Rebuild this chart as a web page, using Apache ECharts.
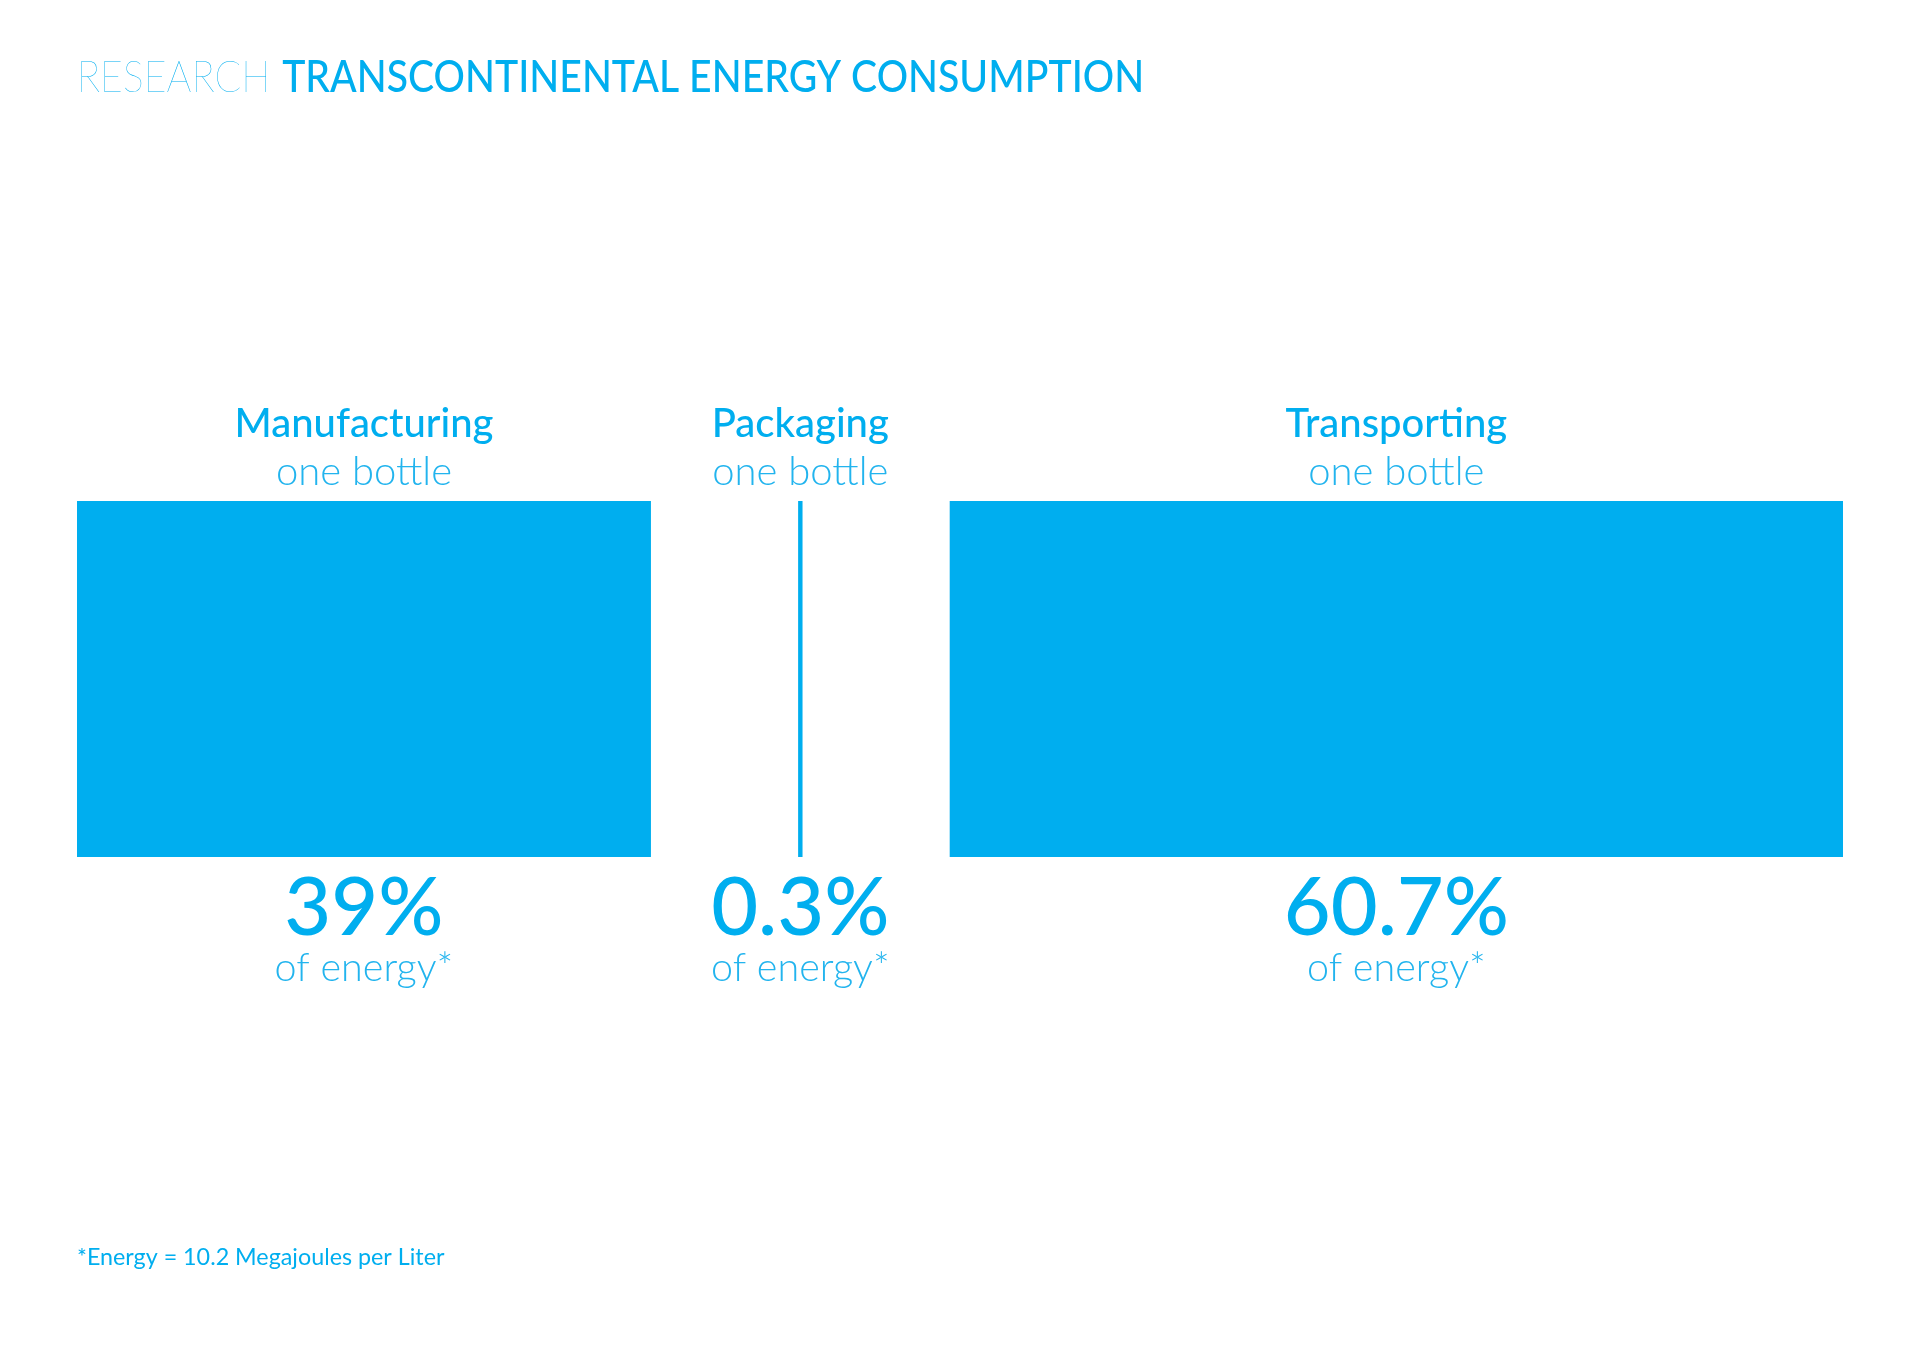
<!DOCTYPE html>
<html>
<head>
<meta charset="utf-8">
<script src="https://cdn.jsdelivr.net/npm/echarts@6/dist/echarts.min.js"></script>
<style>html,body{margin:0;padding:0;background:#fff}#c{width:1920px;height:1357px}</style>
</head>
<body>
<div id="c"></div>
<script>
// ---- data ----
var categories = ['Manufacturing', 'Packaging', 'Transporting'];
var values = [39, 0.3, 60.7];
var valueLabels = ['39%', '0.3%', '60.7%'];
var topSub = 'one bottle';
var bottomSub = 'of energy*';
var titleLight = 'RESEARCH';
var titleBold = 'TRANSCONTINENTAL ENERGY CONSUMPTION';
var footnote = '*Energy = 10.2 Megajoules per Liter';

// layout constant (gap between blocks, in value units)
var GAP = 10;
var BLUE = '#00AEEF';
var LIGHT = '#22B4EE';
var FONT = 'Lato';

var items = [];
var acc = 0;
for (var i = 0; i < values.length; i++) {
  items.push([acc, acc + values[i], i]);
  acc += values[i] + GAP;
}
var total = acc - GAP;

var chart = echarts.init(document.getElementById('c'), null, {renderer: 'canvas'});
chart.setOption({
  backgroundColor: '#ffffff',
  animation: false,
  graphic: [{
    type: 'text',
    left: 77, top: 56,
    scaleX: 0.89,
    style: {
      text: '{a|' + titleLight + '}{s| }{b|' + titleBold + '}',
      rich: {
        a: {fontFamily: FONT, fontWeight: 200, fontSize: 44, fill: BLUE},
        s: {fontFamily: FONT, fontSize: 44, width: 13},
        b: {fontFamily: FONT, fontWeight: 500, fontSize: 44, fill: BLUE}
      }
    }
  }, {
    type: 'text',
    left: 77, top: 1246,
    style: {text: footnote, fontFamily: FONT, fontWeight: 400, fontSize: 23.3, fill: BLUE}
  }],
  grid: {left: 77, top: 501, width: 1766, height: 356},
  xAxis: {type: 'value', min: 0, max: total, show: false},
  yAxis: {type: 'value', min: 0, max: 1, show: false},
  series: [{
    type: 'custom',
    data: items,
    encode: {x: [0, 1]},
    renderItem: function (params, api) {
      var s = api.coord([api.value(0), 1]);
      var e = api.coord([api.value(1), 0]);
      var idx = api.value(2);
      var x0 = s[0], y0 = s[1], x1 = e[0], y1 = e[1];
      var cx = (x0 + x1) / 2;
      return {
        type: 'group',
        children: [
          {type: 'rect', shape: {x: x0, y: y0, width: Math.max(x1 - x0, 1), height: y1 - y0}, style: {fill: BLUE}},
          {type: 'text', style: {text: categories[idx], x: cx, y: y0 - 77, align: 'center', verticalAlign: 'middle',
            font: '500 40px ' + FONT, fill: BLUE}},
          {type: 'text', style: {text: topSub, x: cx, y: y0 - 29, align: 'center', verticalAlign: 'middle',
            font: '300 40px ' + FONT, fill: LIGHT}},
          {type: 'text', style: {text: valueLabels[idx], x: cx, y: y1 + 52, align: 'center', verticalAlign: 'middle',
            font: '500 81px ' + FONT, fill: BLUE}},
          {type: 'text', style: {text: bottomSub, x: cx, y: y1 + 111, align: 'center', verticalAlign: 'middle',
            font: '300 39.5px ' + FONT, fill: LIGHT}}
        ]
      };
    }
  }]
});
</script>
</body>
</html>
